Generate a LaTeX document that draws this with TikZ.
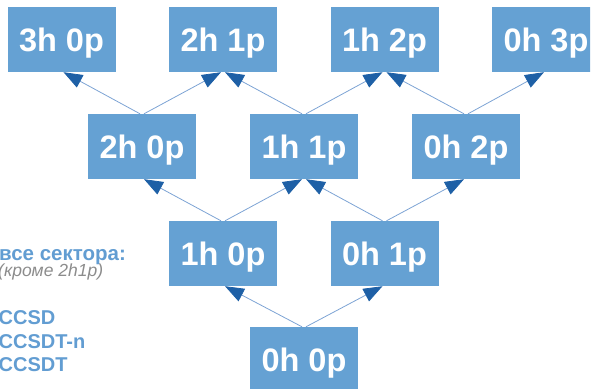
\documentclass[tikz,border=0pt]{standalone}
\usepackage{fontspec}
\setmainfont{Liberation Sans}
\usetikzlibrary{arrows.meta}
\definecolor{boxblue}{RGB}{101,161,211}
\definecolor{tipblue}{RGB}{30,96,166}
\definecolor{lineblue}{RGB}{125,163,212}
\definecolor{labelblue}{RGB}{98,157,210}
\definecolor{labelgray}{RGB}{140,140,140}
\begin{document}
\begin{tikzpicture}[x=1pt,y=-1pt,
  box/.style={fill=boxblue, minimum width=108pt, minimum height=65pt, inner sep=0pt,
    text=white, text height=23pt, text depth=0pt,
    font=\fontsize{32.5}{32.5}\selectfont\bfseries},
  link/.style={draw=lineblue, line width=0.8pt,
    -{Triangle[length=19pt,width=14pt,color=tipblue]}},
  side/.style={anchor=base west, inner sep=0pt, text=labelblue,
    font=\fontsize{20}{20}\selectfont\bfseries},
  title/.style={side, font=\fontsize{20.5}{20.5}\selectfont\bfseries},
  note/.style={anchor=base west, inner sep=0pt, text=labelgray,
    font=\fontsize{17.5}{17.5}\selectfont\itshape}]
\useasboundingbox (0,0) rectangle (596,388);
\begin{scope}
\clip (0,0) rectangle (590,388);
\node[box] (a30) at (61.5,39.5) {3h 0p};
\node[box] (a21) at (223,39.5) {2h 1p};
\node[box] (a12) at (384.5,39.5) {1h 2p};
\node[box] (a03) at (546,39.5) {0h 3p};
\node[box] (b20) at (142,146.5) {2h 0p};
\node[box] (b11) at (304,146.5) {1h 1p};
\node[box] (b02) at (466,146.5) {0h 2p};
\node[box] (c10) at (223,253.5) {1h 0p};
\node[box] (c01) at (384.5,253.5) {0h 1p};
\node[box] (d00) at (304,359.5) {0h 0p};
\node[title] (t1) at (-1,260.3) {все сектора:};
\node[note] (t2) at (-2,276.5) {(кроме 2h1p)};
\node[side] (t3) at (-1.5,324.7) {CCSD};
\node[side] (t4) at (-1.5,348) {CCSDT-n};
\node[side] (t5) at (-1.5,371.3) {CCSDT};
\end{scope}
\foreach \s/\t/\d in {b20/a30/-1, b20/a21/1, b11/a21/-1, b11/a12/1, b02/a12/-1, b02/a03/1,
  c10/b20/-1, c10/b11/1, c01/b11/-1, c01/b02/1, d00/c10/-1, d00/c01/1}
  \draw[link] ([xshift=\d*2pt]\s.north) -- ([xshift=-\d*2pt]\t.south);
\end{tikzpicture}
\end{document}
